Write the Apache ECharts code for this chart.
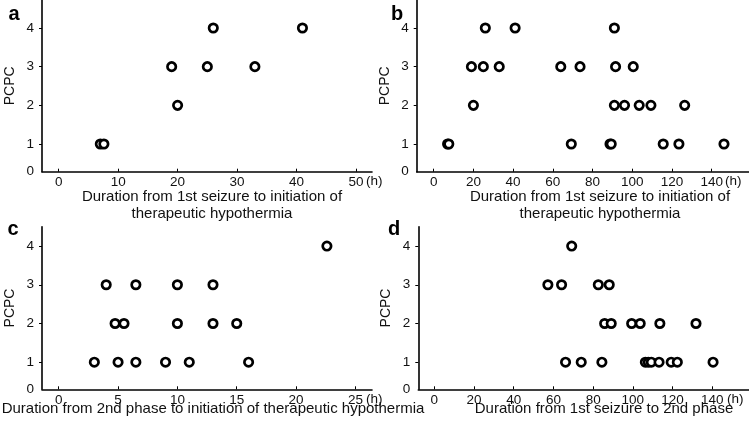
<!DOCTYPE html>
<html>
<head>
<meta charset="utf-8">
<script src="https://cdn.jsdelivr.net/npm/echarts@6/dist/echarts.min.js"></script>
<style>
html,body{margin:0;padding:0;background:#fff;}
#c{width:749px;height:425px;}
</style>
</head>
<body>
<div id="c"></div>
<script>
// Panel a: duration from 1st seizure to initiation of TH (h) vs PCPC
var aX = [26, 41, 19, 25, 33, 20, 7, 7.6];
var aY = [4, 4, 3, 3, 3, 2, 1, 1];
// Panel b
var bX = [26, 41, 91, 19, 25, 33, 64, 73.7, 91.6, 100.5, 20, 91, 96.1, 103.5, 109.4, 126.4, 7, 7.6, 69.3, 88.8, 89.4, 115.6, 123.5, 146.2];
var bY = [4, 4, 4, 3, 3, 3, 3, 3, 3, 3, 2, 2, 2, 2, 2, 2, 1, 1, 1, 1, 1, 1, 1, 1];
// Panel c: duration from 2nd phase to initiation of TH (h)
var cX = [22.6, 4, 6.5, 10, 13, 4.75, 5.5, 10, 13, 15, 3, 5, 6.5, 9, 11, 16];
var cY = [4, 3, 3, 3, 3, 2, 2, 2, 2, 2, 1, 1, 1, 1, 1, 1];
// Panel d: duration from 1st seizure to 2nd phase (h)
var dX = [69.2, 57.2, 64.1, 82.6, 88.1, 85.8, 89.1, 99.4, 103.7, 113.6, 131.8, 66.1, 74, 84.4, 106.3, 107.8, 109.3, 113.2, 119.3, 122.4, 140.4];
var dY = [4, 3, 3, 3, 3, 2, 2, 2, 2, 2, 2, 1, 1, 1, 1, 1, 1, 1, 1, 1, 1];

var yTicks = [1, 2, 3, 4];
var aTicks = [0, 10, 20, 30, 40, 50];
var bTicks = [0, 20, 40, 60, 80, 100, 120, 140];
var cTicks = [0, 5, 10, 15, 20, 25];
var dTicks = [0, 20, 40, 60, 80, 100, 120, 140];

var panelLetters = ['a', 'b', 'c', 'd'];
var xTitles = [
  'Duration from 1st seizure to initiation of\ntherapeutic hypothermia',
  'Duration from 1st seizure to initiation of\ntherapeutic hypothermia',
  'Duration from 2nd phase to initiation of therapeutic hypothermia',
  'Duration from 1st seizure to 2nd phase'
];
var yTitle = 'PCPC';
var unitLabel = '(h)';

var FONT = '"Liberation Sans", Arial, sans-serif';

var panels = [
  {grid: {left: 42, top: 0, width: 330, height: 171.7}, xmin: -2.81, xmax: 52.7, ymin: 0.284, ymax: 4.724, xs: aX, ys: aY, ticks: aTicks},
  {grid: {left: 416.7, top: 0, width: 332.3, height: 171.7}, xmin: -8.56, xmax: 158.8, ymin: 0.284, ymax: 4.724, xs: bX, ys: bY, ticks: bTicks},
  {grid: {left: 42, top: 226.7, width: 330, height: 162.6}, xmin: -1.41, xmax: 26.4, ymin: 0.30, ymax: 4.5, xs: cX, ys: cY, ticks: cTicks},
  {grid: {left: 418.3, top: 226.7, width: 330.7, height: 162.6}, xmin: -8.06, xmax: 158.5, ymin: 0.30, ymax: 4.5, xs: dX, ys: dY, ticks: dTicks}
];

var grids = [], xAxes = [], yAxes = [], series = [];
panels.forEach(function (p, i) {
  grids.push(p.grid);
  xAxes.push({
    gridIndex: i, type: 'value', min: p.xmin, max: p.xmax,
    axisLine: {show: true, onZero: false, lineStyle: {color: '#000', width: 1.6}},
    axisTick: {show: true, inside: true, length: 3, customValues: p.ticks, lineStyle: {color: '#000', width: 1}},
    axisLabel: {customValues: p.ticks, color: '#111', fontSize: 13.5, fontFamily: FONT, margin: 4},
    splitLine: {show: false}
  });
  var ylab = [p.ymin].concat(yTicks);
  yAxes.push({
    gridIndex: i, type: 'value', min: p.ymin, max: p.ymax,
    axisLine: {show: true, onZero: false, lineStyle: {color: '#000', width: 1.6}},
    axisTick: {show: true, length: 3, customValues: yTicks, lineStyle: {color: '#000', width: 1}},
    axisLabel: {customValues: ylab, color: '#111', fontSize: 13.5, fontFamily: FONT, margin: 8,
      formatter: function (v) { return v < 0.5 ? '0' : String(Math.round(v)); }},
    splitLine: {show: false},
    name: yTitle, nameLocation: 'middle', nameGap: 25,
    nameTextStyle: {color: '#111', fontSize: 14, fontFamily: FONT}
  });
  series.push({
    type: 'scatter', xAxisIndex: i, yAxisIndex: i,
    data: p.xs.map(function (x, k) { return [x, p.ys[k]]; }),
    symbol: 'circle', symbolSize: 8.4,
    itemStyle: {color: '#fff', borderColor: '#000', borderWidth: 2.7, opacity: 1},
    emphasis: {disabled: true}
  });
});

var txt = function (x, y, text, opts) {
  return Object.assign({
    type: 'text', x: x, y: y,
    style: Object.assign({text: text, fill: '#111', font: '15px ' + FONT, align: 'center', verticalAlign: 'middle'}, opts || {})
  });
};

var graphics = [
  txt(14, 14, panelLetters[0], {font: 'bold 20px ' + FONT, fill: '#000'}),
  txt(397, 14, panelLetters[1], {font: 'bold 20px ' + FONT, fill: '#000'}),
  txt(13, 229, panelLetters[2], {font: 'bold 20px ' + FONT, fill: '#000'}),
  txt(394, 229, panelLetters[3], {font: 'bold 20px ' + FONT, fill: '#000'}),
  txt(212, 205, xTitles[0], {lineHeight: 17}),
  txt(600, 205, xTitles[1], {lineHeight: 17}),
  txt(213, 409, xTitles[2]),
  txt(604, 409, xTitles[3]),
  txt(366, 181.5, unitLabel, {align: 'left', font: '13.5px ' + FONT}),
  txt(725, 181.5, unitLabel, {align: 'left', font: '13.5px ' + FONT}),
  txt(366, 399, unitLabel, {align: 'left', font: '13.5px ' + FONT}),
  txt(727, 399, unitLabel, {align: 'left', font: '13.5px ' + FONT})
];

var chart = echarts.init(document.getElementById('c'), null, {renderer: 'canvas'});
chart.setOption({
  animation: false,
  backgroundColor: '#fff',
  grid: grids,
  xAxis: xAxes,
  yAxis: yAxes,
  series: series,
  graphic: graphics
});
</script>
</body>
</html>
